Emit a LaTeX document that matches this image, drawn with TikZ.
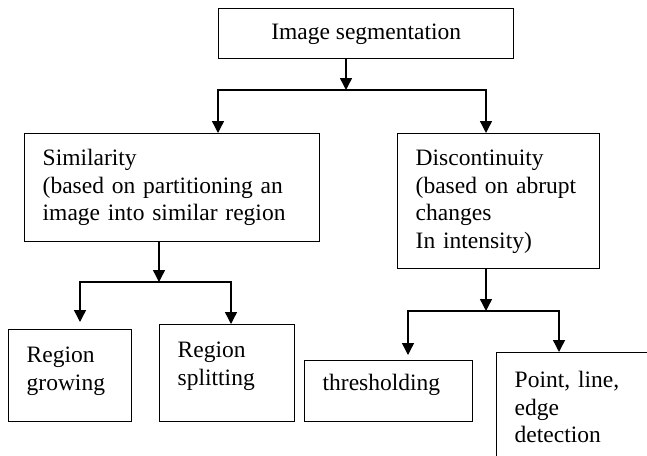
\documentclass[tikz,border=0pt]{standalone}
\usepackage{fontspec}
\setmainfont{Liberation Serif}
\usetikzlibrary{arrows.meta,positioning,calc}

\begin{document}
\begin{tikzpicture}[x=1pt, y=-1pt,
    box/.style={draw, line width=1.4pt, anchor=north west, inner xsep=18pt, inner ysep=4pt,
        align=left, text height=16pt, font=\fontsize{23.5}{27.5}\selectfont},
    arr/.style={line width=1.4pt, -{Triangle[length=12pt,width=12pt]}},
    link/.style={line width=1.4pt, line cap=rect}]
    \useasboundingbox (0,0) rectangle (647,455);
    \clip (0,0) rectangle (647,455);

    \node[box, align=center, minimum width=295pt, minimum height=50pt] (top) at (218,8) {Image segmentation};

    \node[box, text width=259pt, minimum height=108pt, text depth=60pt] (sim) at (24,133) {Similarity\\(based on partitioning an\\image into similar region};
    \node[box, text width=166pt, minimum height=135pt, text depth=87pt] (dis) at (397,133) {Discontinuity\\(based on abrupt\\changes\\In intensity)};

    \node[box, text width=87pt, minimum height=92pt, text depth=42pt] (grow) at (8,329) {Region\\growing};
    \node[box, text width=99pt, minimum height=97pt, text depth=47pt] (split) at (159,324) {Region\\splitting};
    \node[box, text width=132pt, minimum height=61pt, text depth=17pt] (thr) at (304,360) {thresholding};
    \node[box, text width=128pt, minimum height=120pt, text depth=66pt] (pld) at (496,352) {Point, line,\\edge\\detection};

    % junctions
    \coordinate (j1) at (346,90);
    \coordinate (jl) at (218,90);
    \coordinate (jr) at (486,90);
    \coordinate (j2) at (159,282);
    \coordinate (j2l) at (80,282);
    \coordinate (j2r) at (231,282);
    \coordinate (j3) at (486,311);
    \coordinate (j3l) at (408,311);
    \coordinate (j3r) at (559,311);

    \draw[arr] (j1 |- top.south) -- (j1);
    \draw[link] (jl) -- (jr);
    \draw[arr] (jl) -- (jl |- sim.north);
    \draw[arr] (jr) -- (jr |- dis.north);

    \draw[arr] (j2 |- sim.south) -- (j2);
    \draw[link] (j2l) -- (j2r);
    \draw[arr, shorten >=7pt] (j2l) -- (j2l |- grow.north);
    \draw[arr] (j2r) -- (j2r |- split.north);

    \draw[arr] (j3 |- dis.south) -- (j3);
    \draw[link] (j3l) -- (j3r);
    \draw[arr, shorten >=5pt] (j3l) -- (j3l |- thr.north);
    \draw[arr] (j3r) -- (j3r |- pld.north);
\end{tikzpicture}
\end{document}
